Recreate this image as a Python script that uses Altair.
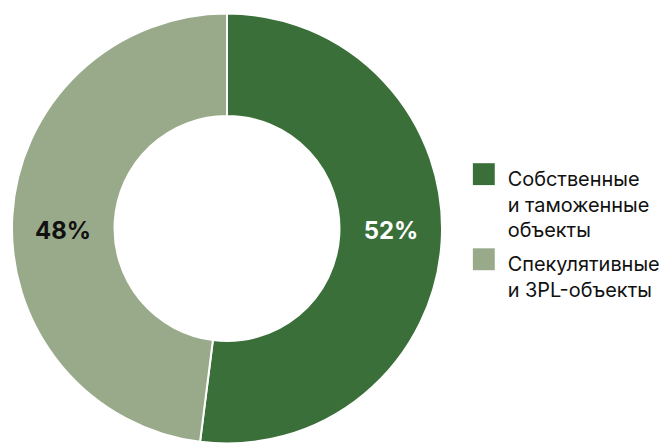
import altair as alt
import pandas as pd

categories = ["Собственные\nи таможенные\nобъекты", "Спекулятивные\nи 3PL-объекты"]
values = [52, 48]
labels = ["52%", "48%"]
label_colors = ["#ffffff", "#111111"]
colors = ["#3a6f39", "#99aa8b"]

df = pd.DataFrame({
    "cat": categories,
    "value": values,
    "label": labels,
    "lc": label_colors,
    "idx": list(range(len(categories))),
})
total = float(sum(values))

base = alt.Chart(df)

arcs = base.mark_arc(outerRadius=216, innerRadius=113, stroke="white", strokeWidth=2).encode(
    theta=alt.Theta("value:Q", stack=True),
    order=alt.Order("idx:Q"),
    color=alt.Color(
        "cat:N",
        sort=categories,
        scale=alt.Scale(domain=categories, range=colors),
        legend=alt.Legend(
            title=None,
            orient="none",
            legendX=464,
            legendY=146.5,
            symbolType="M-1,-0.6L1,-0.6L1,1.4L-1,1.4Z",
            symbolSize=484,
            symbolStrokeWidth=0,
            labelOffset=13,
            labelFont="Inter",
            labelFontSize=20,
            labelColor="#111111",
            labelLimit=400,
            labelBaseline="top",
            labelExpr="split(datum.label, '\\n')",
            rowPadding=2.5,
            padding=0,
        ),
    ),
)

text_base = base.transform_window(
    cum="sum(value)", sort=[alt.SortField("idx")]
).transform_calculate(
    mid="datum.cum - datum.value / 2"
)

text_style = dict(radius=165, font="Inter", fontSize=24, fontWeight="bold", baseline="middle")
text_enc = dict(
    theta=alt.Theta("mid:Q", stack=False, scale=alt.Scale(domain=[0, total])),
    text="label:N",
    color=alt.Color("lc:N", scale=None),
)

text_a = text_base.mark_text(dy=-6.9, **text_style).encode(**text_enc).transform_filter(alt.datum.idx == 0)
text_b = text_base.mark_text(dy=13.9, **text_style).encode(**text_enc).transform_filter(alt.datum.idx == 1)

chart = alt.layer(arcs, text_a, text_b).resolve_scale(theta="independent").properties(
    width=434, height=433, padding={"left": 0, "top": 0, "right": 0, "bottom": 0}
).configure_view(stroke=None).configure(
    style={"guide-label": {"lineHeight": 26}}
)

chart.save("out.html", embed_options={"renderer": "svg", "actions": False})
